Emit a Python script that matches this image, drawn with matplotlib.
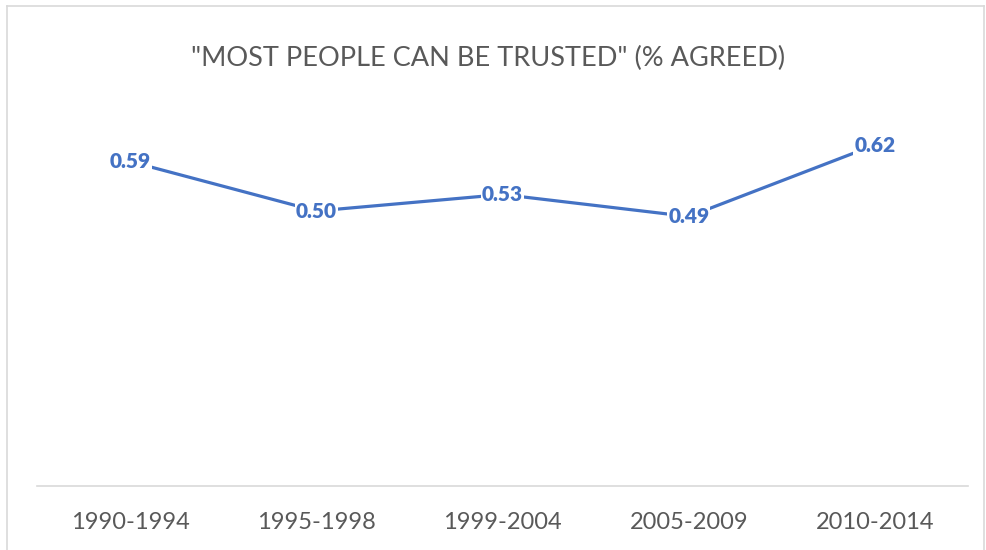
import matplotlib
matplotlib.use("Agg")
import matplotlib.pyplot as plt

# share of respondents agreeing that most people can be trusted
periods = ["1990-1994", "1995-1998", "1999-2004", "2005-2009", "2010-2014"]
trust = [0.59, 0.50, 0.53, 0.49, 0.62]

plt.rcParams['font.family'] = ['Lato', 'DejaVu Sans']
blue = '#4472C4'
grey = '#595959'

fig = plt.figure(figsize=(9.86, 5.5), dpi=100)
ax = fig.add_axes([37/986, 1 - 486/550, 931/986, 385/550])

x = range(len(periods))
ax.plot(x, trust, color=blue, linewidth=2.3, solid_capstyle='round', zorder=2)
for i, v in zip(x, trust):
    ax.text(i, v, f"{v:.2f}", color=blue, fontsize=15, fontweight='heavy',
            ha='center', va='center', zorder=3,
            bbox=dict(boxstyle='square,pad=0.05', fc='white', ec='none'))

ax.set_xlim(-0.5, len(periods) - 0.5)
ax.set_ylim(0, 0.7)
ax.set_xticks(list(x))
ax.set_xticklabels(periods, color=grey, fontsize=17)
ax.tick_params(axis='x', length=0, pad=19)
ax.set_yticks([])
for side in ['left', 'right', 'top']:
    ax.spines[side].set_visible(False)
ax.spines['bottom'].set_color('#D9D9D9')
ax.spines['bottom'].set_linewidth(1.2)

fig.text(0.495, 1 - 58/550, '"MOST PEOPLE CAN BE TRUSTED" (% AGREED)',
         color=grey, fontsize=19.5, ha='center', va='center')

# light outer frame
fig.add_artist(plt.Line2D([7/986, 7/986], [0, 1 - 6/550], transform=fig.transFigure,
                          color='#D9D9D9', linewidth=1.2))
fig.add_artist(plt.Line2D([7/986, 984/986], [1 - 6/550, 1 - 6/550], transform=fig.transFigure,
                          color='#D9D9D9', linewidth=1.2))
fig.add_artist(plt.Line2D([984/986, 984/986], [0, 1 - 6/550], transform=fig.transFigure,
                          color='#D9D9D9', linewidth=1.2))

fig.savefig("out.png", dpi=100)
